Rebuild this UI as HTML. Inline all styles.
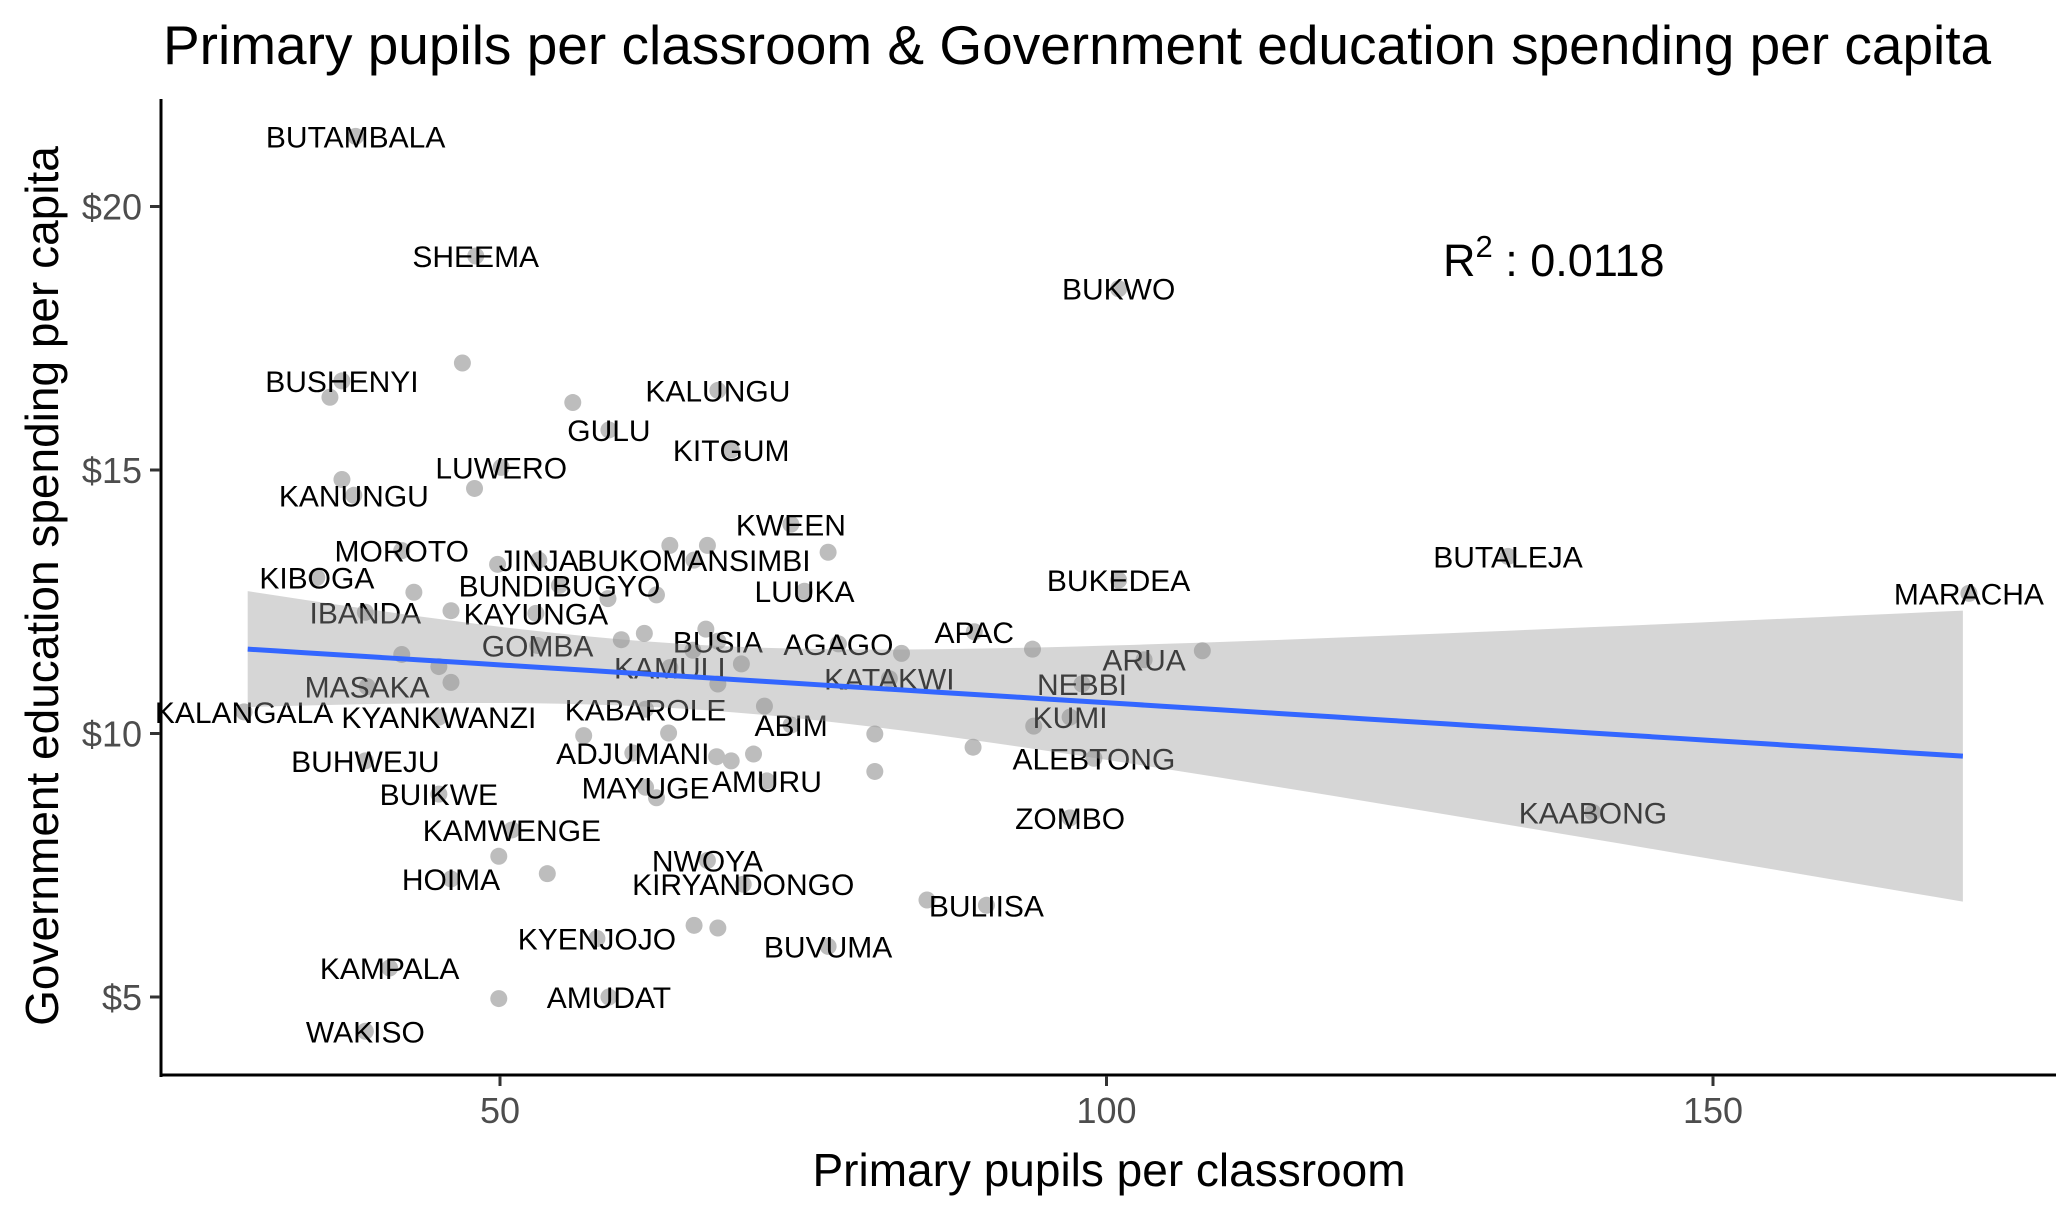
<!DOCTYPE html>
<html><head><meta charset="utf-8"><style>
html,body{margin:0;padding:0;background:#fff;}
svg{display:block;font-family:"Liberation Sans",Arial,sans-serif;}
</style></head><body>
<svg id="chart" width="2071" height="1212" viewBox="0 0 2071 1212" xmlns="http://www.w3.org/2000/svg">
<rect width="2071" height="1212" fill="#fff"/>
<text x="163" y="64" font-size="55" fill="#000">Primary pupils per classroom &amp; Government education spending per capita</text>
<g id="points"></g>
<g id="labels"></g>
<g id="fit"></g>
<g id="axes"></g>
<text x="1443" y="276" font-size="45" fill="#000">R<tspan dy="-19" font-size="31">2</tspan><tspan dy="19"> : 0.0118</tspan></text>
<text transform="translate(58,586) rotate(-90)" text-anchor="middle" font-size="46" fill="#000">Government education spending per capita</text>
<text x="1109" y="1186" text-anchor="middle" font-size="46" fill="#000">Primary pupils per classroom</text>
</svg>
<script>
const labelNames = ["BUTAMBALA","SHEEMA","BUKWO","BUSHENYI","KALUNGU","GULU","KITGUM","LUWERO","KANUNGU","KWEEN","MOROTO","JINJA","BUKOMANSIMBI","BUTALEJA","KIBOGA","BUNDIBUGYO","LUUKA","BUKEDEA","MARACHA","IBANDA","KAYUNGA","APAC","GOMBA","BUSIA","AGAGO","ARUA","KAMULI","KATAKWI","NEBBI","MASAKA","KALANGALA","KYANKWANZI","KABAROLE","KUMI","ABIM","ADJUMANI","BUHWEJU","ALEBTONG","AMURU","MAYUGE","BUIKWE","ZOMBO","KAABONG","KAMWENGE","NWOYA","KIRYANDONGO","HOIMA","BULIISA","KYENJOJO","BUVUMA","KAMPALA","AMUDAT","WAKISO"];
const labelPupils = [38.1,48.0,101.0,36.97,67.96,58.98,69.06,50.1,37.95,73.98,41.9,53.2,65.99,133.1,34.9,54.9,75.1,101.0,171.1,38.9,52.96,89.1,53.1,67.96,77.9,103.1,64.0,82.1,97.98,39.05,28.9,44.96,62.0,97.0,74.0,60.95,38.9,98.96,72.0,62.0,44.96,97.0,140.1,50.98,67.1,70.05,45.96,90.1,57.99,77.05,40.9,58.98,38.9];
const labelSpend = [21.33,19.06,18.44,16.69,16.51,15.76,15.38,15.05,14.52,13.97,13.47,13.29,13.29,13.36,12.96,12.81,12.7,12.91,12.66,12.3,12.28,11.93,11.67,11.75,11.7,11.4,11.25,11.04,10.94,10.89,10.41,10.31,10.46,10.31,10.16,9.63,9.48,9.53,9.1,8.98,8.85,8.4,8.5,8.17,7.59,7.14,7.24,6.74,6.11,5.96,5.55,5.0,4.35];
const otherPupils = [46.9,56.0,35.98,36.97,47.9,77.05,67.1,64.0,49.8,42.9,45.96,62.9,58.9,60.0,61.9,66.97,65.9,69.9,67.96,44.96,41.9,45.96,83.1,93.9,107.9,71.8,63.9,80.9,56.9,70.9,67.86,69.06,80.9,89.0,62.9,94.0,53.9,49.9,66.0,67.96,85.2,49.9];
const otherSpend = [17.03,16.28,16.38,14.82,14.65,13.44,13.57,13.57,13.21,12.68,12.33,12.63,12.56,11.78,11.9,11.98,11.58,11.32,10.94,11.27,11.5,10.97,11.52,11.6,11.57,10.52,10.01,9.99,9.96,9.61,9.56,9.48,9.28,9.74,8.78,10.14,7.34,7.67,6.36,6.31,6.84,4.97];
const xTicks = [50,100,150];
const xTickLabels = ["50","100","150"];
const yTicks = [5,10,15,20];
const yTickLabels = ["$5","$10","$15","$20"];
const fitRange = [29.2,170.6];
const fitCoef = [12.02,-0.01436];
const seParams = [65,0.377,0.00065];

const NS="http://www.w3.org/2000/svg";
const X=v=>500+(v-50)*12.13;
const Y=v=>997-(v-5)*52.7;
function mk(tag,attrs,parent){const e=document.createElementNS(NS,tag);for(const k in attrs)e.setAttribute(k,attrs[k]);parent.appendChild(e);return e;}
const gp=document.getElementById('points'),gl=document.getElementById('labels'),gf=document.getElementById('fit'),ga=document.getElementById('axes');

const allX=labelPupils.concat(otherPupils), allY=labelSpend.concat(otherSpend);
allX.forEach((v,i)=>{
  const c=mk('circle',{cx:X(v),cy:Y(allY[i]),r:8.5,fill:'#bdbdbd'},gp);
  
  
});
labelNames.forEach((n,i)=>{
  const t=mk('text',{x:X(labelPupils[i]),y:Y(labelSpend[i])+11,'text-anchor':'middle','font-size':30,fill:'#000'},gl);
  t.textContent=n;
  
  
});
const N=60;let up=[],lo=[],ln=[];
for(let i=0;i<=N;i++){
  const xv=fitRange[0]+(fitRange[1]-fitRange[0])*i/N;
  const yv=fitCoef[0]+fitCoef[1]*xv;
  const h=Math.sqrt(seParams[1]+seParams[2]*(xv-seParams[0])**2);
  up.push(X(xv)+','+Y(yv+h));lo.unshift(X(xv)+','+Y(yv-h));ln.push(X(xv)+','+Y(yv));
}
const rib=mk('polygon',{points:up.concat(lo).join(' '),fill:'#999999','fill-opacity':0.4},gf);


const fl=mk('polyline',{points:ln.join(' '),fill:'none',stroke:'#3366FF','stroke-width':5},gf);


const yl=mk('line',{x1:161,y1:99,x2:161,y2:1077,stroke:'#000','stroke-width':3},ga);


const xl=mk('line',{x1:160,y1:1075,x2:2056,y2:1075,stroke:'#000','stroke-width':3},ga);


xTicks.forEach((v,i)=>{
  const tk=mk('line',{x1:X(v),y1:1076,x2:X(v),y2:1086,stroke:'#333','stroke-width':3},ga);
  
  
  const t=mk('text',{x:X(v),y:1123,'text-anchor':'middle','font-size':36,fill:'#4d4d4d'},ga);
  t.textContent=xTickLabels[i];
  
  
});
yTicks.forEach((v,i)=>{
  const tk=mk('line',{x1:150,y1:Y(v),x2:160,y2:Y(v),stroke:'#333','stroke-width':3},ga);
  
  
  const t=mk('text',{x:142,y:Y(v)+13,'text-anchor':'end','font-size':36,fill:'#4d4d4d'},ga);
  t.textContent=yTickLabels[i];
  
  
});
</script>
</body></html>
